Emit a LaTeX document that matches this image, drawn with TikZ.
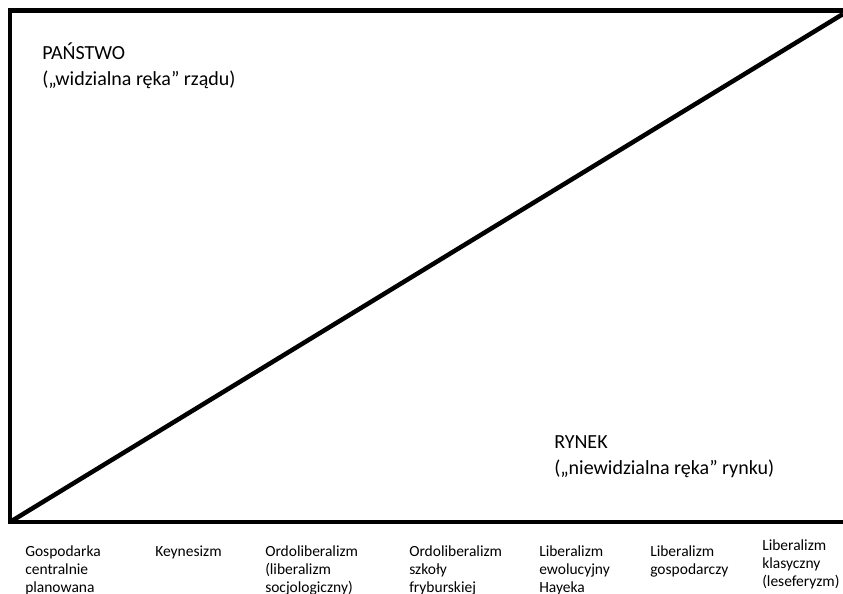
\documentclass[tikz,border=0pt]{standalone}
\usepackage{fontspec}
\setmainfont{Carlito}
\usepackage{tikz}
\usetikzlibrary{positioning}

\begin{document}
\begin{tikzpicture}[x=1pt,y=-1pt,line width=4.5pt,
    big/.style={font=\fontsize{20}{26}\selectfont,align=left,inner sep=0pt,anchor=base west},
    school/.style={font=\fontsize{15.5}{18}\selectfont,align=left,inner sep=0pt,anchor=base west}]
  \useasboundingbox (0,0) rectangle (843,594);
  \clip (0,0) rectangle (843,594);
  % frame, open on the right
  \coordinate (corner) at (10,522);
  \coordinate (topend) at (843,14);
  \draw (850,10.5) -- (10,10.5) -- (corner) -- (850,522);
  \draw (corner) -- (topend);
  % the two ends of the scale (base = last line)
  \node[big] (state) at (40,85) {PAŃSTWO\\(„widzialna ręka” rządu)};
  \node[big] (market) at (552,474) {RYNEK\\(„niewidzialna ręka” rynku)};
  % schools of thought, first line at 556
  \node[school] (planned) at (23,592) {Gospodarka\\centralnie\\planowana};
  \node[school] (keynes) at (153,556) {Keynesizm};
  \node[school] (ordo) at (263,592) {Ordoliberalizm\\(liberalizm\\socjologiczny)};
  \node[school] (freiburg) at (407,592) {Ordoliberalizm\\szkoły\\fryburskiej};
  \node[school] (hayek) at (537,592) {Liberalizm\\ewolucyjny\\Hayeka};
  \node[school] (econ) at (648,574) {Liberalizm\\gospodarczy};
  \node[school] (classic) at (760,586) {Liberalizm\\klasyczny\\(leseferyzm)};
\end{tikzpicture}
\end{document}
